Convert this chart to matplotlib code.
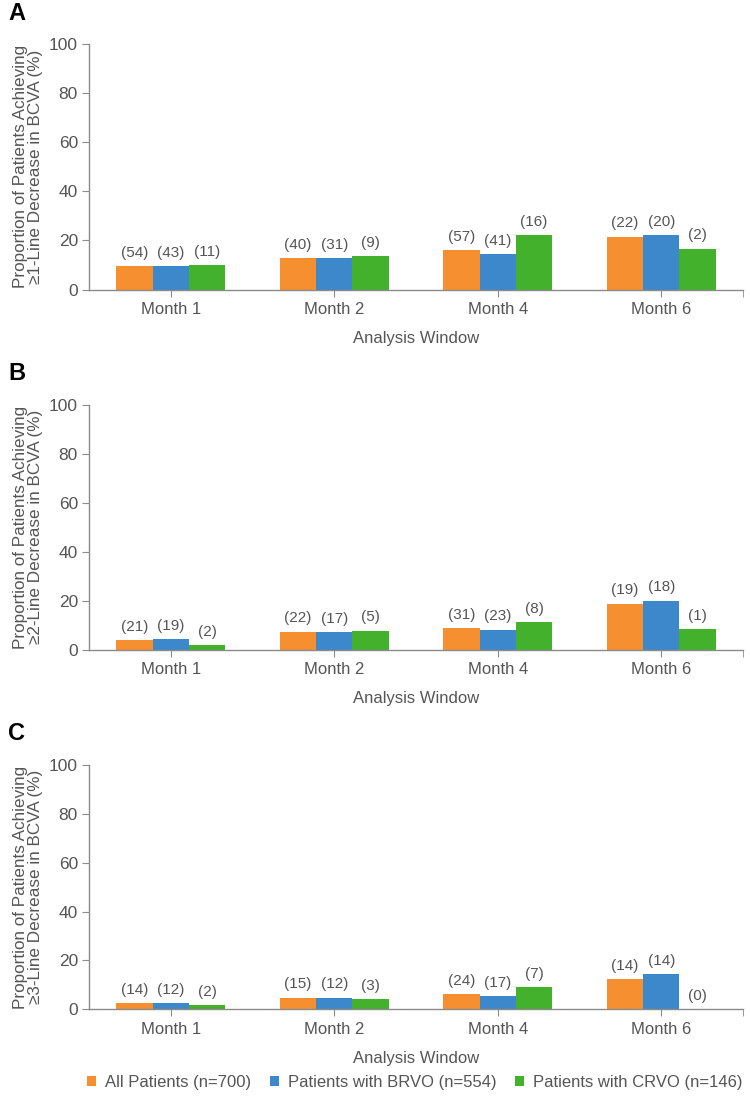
import numpy as np
import matplotlib
matplotlib.use('Agg')
import matplotlib.pyplot as plt
from matplotlib.patches import Patch

plt.rcParams['font.family'] = ['Liberation Sans', 'DejaVu Sans']

# ── Data ────────────────────────────────────────────────────────────────────
months = ['Month 1', 'Month 2', 'Month 4', 'Month 6']
series_names = ['All Patients (n=700)', 'Patients with BRVO (n=554)', 'Patients with CRVO (n=146)']
panel_letters = ['A', 'B', 'C']
ylabels = ['Proportion of Patients Achieving\n\u22651-Line Decrease in BCVA (%)',
           'Proportion of Patients Achieving\n\u22652-Line Decrease in BCVA (%)',
           'Proportion of Patients Achieving\n\u22653-Line Decrease in BCVA (%)']

# percentages
a_all  = [9.5, 12.9, 15.9, 21.5]
a_brvo = [9.4, 12.8, 14.4, 22.0]
a_crvo = [9.9, 13.6, 22.0, 16.6]
b_all  = [3.7, 7.3, 8.8, 18.8]
b_brvo = [4.2, 7.0, 8.1, 20.0]
b_crvo = [1.8, 7.7, 11.1, 8.4]
c_all  = [2.5, 4.8, 6.2, 12.2]
c_brvo = [2.5, 4.8, 5.5, 14.4]
c_crvo = [1.8, 4.1, 9.2, 0.0]

# patient counts shown above the bars
a_all_n  = [54, 40, 57, 22]
a_brvo_n = [43, 31, 41, 20]
a_crvo_n = [11, 9, 16, 2]
b_all_n  = [21, 22, 31, 19]
b_brvo_n = [19, 17, 23, 18]
b_crvo_n = [2, 5, 8, 1]
c_all_n  = [14, 15, 24, 14]
c_brvo_n = [12, 12, 17, 14]
c_crvo_n = [2, 3, 7, 0]

panels = [
    ([a_all, a_brvo, a_crvo], [a_all_n, a_brvo_n, a_crvo_n]),
    ([b_all, b_brvo, b_crvo], [b_all_n, b_brvo_n, b_crvo_n]),
    ([c_all, c_brvo, c_crvo], [c_all_n, c_brvo_n, c_crvo_n]),
]

colors = ['#F58F30', '#3D87CB', '#43B12B']
spine_c = '#8a8a8a'
text_c = '#555555'

# ── Figure ──────────────────────────────────────────────────────────────────
fig = plt.figure(figsize=(7.5, 11.07), dpi=100)
W, H = 750, 1107
ax_left, ax_right = 89, 743
tops = [44, 405, 765]
bottoms = [289.5, 649.5, 1009.3]

bw = 0.222
x = np.arange(len(months)) + 0.5

for k, (vals, counts) in enumerate(panels):
    ax = fig.add_axes([ax_left / W, 1 - bottoms[k] / H,
                       (ax_right - ax_left) / W, (bottoms[k] - tops[k]) / H])
    for j in range(3):
        xs = x + (j - 1) * bw
        ax.bar(xs, vals[j], width=bw, color=colors[j], edgecolor='none', zorder=2)
        for xi, v, n in zip(xs, vals[j], counts[j]):
            ax.annotate(f'({n})', xy=(xi, v), xytext=(0, 4.5), textcoords='offset points',
                        ha='center', va='bottom', fontsize=11, color=text_c)

    ax.set_xlim(0, 4)
    ax.set_ylim(0, 100)
    ax.set_yticks([0, 20, 40, 60, 80, 100])
    ax.set_xticks(x)
    ax.set_xticklabels(months)
    ax.set_xticks([4], minor=True)
    ax.tick_params(axis='both', colors=spine_c, labelcolor=text_c, labelsize=12, length=5, pad=4)
    ax.tick_params(axis='x', which='minor', colors=spine_c, length=5)
    ax.tick_params(axis='y', labelsize=12.5, pad=3)

    for s in ['top', 'right']:
        ax.spines[s].set_visible(False)
    for s in ['left', 'bottom']:
        ax.spines[s].set_color(spine_c)
        ax.spines[s].set_linewidth(1.0)

    ax.set_ylabel(ylabels[k], fontsize=12.3, color=text_c, labelpad=4, linespacing=1.0)
    ax.set_xlabel('Analysis Window', fontsize=12, color=text_c, labelpad=10)

    fig.text(8 / W, 1 - (tops[k] - 31) / H, panel_letters[k], fontsize=17,
             fontweight='bold', color='black', ha='left', va='center')

# ── Legend ──────────────────────────────────────────────────────────────────
handles = [Patch(facecolor=c, edgecolor='none') for c in colors]
fig.legend(handles, series_names, loc='center', bbox_to_anchor=(0.553, 1 - 1082 / H),
           ncol=3, frameon=False, fontsize=12, handlelength=0.55, handleheight=0.55,
           handletextpad=0.55, columnspacing=1.1, labelcolor=text_c)

fig.savefig('out.png', dpi=100, facecolor='white')
